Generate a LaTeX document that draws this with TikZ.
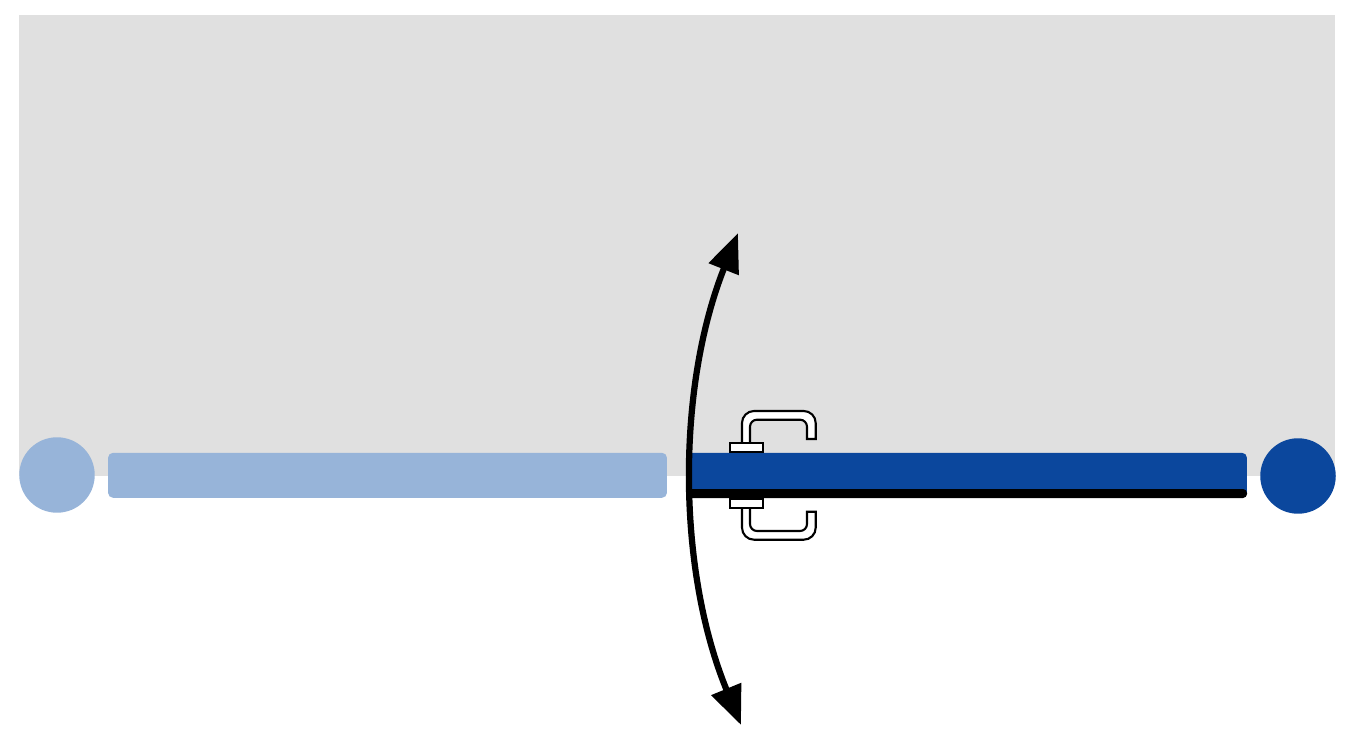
\documentclass[tikz,border=0pt]{standalone}
\usetikzlibrary{arrows.meta}
\definecolor{wallgray}{HTML}{E0E0E0}
\definecolor{leafpale}{HTML}{97B4D9}
\definecolor{leafblue}{HTML}{0B479D}
\tikzset{
  jamb/.style={circle, inner sep=0pt, outer sep=0pt, minimum size=1.51cm},
  leaf/.style={rectangle, rounded corners=0.1cm, inner sep=0pt, outer sep=0pt, minimum height=0.9cm},
  handlepart/.style={draw=black, fill=white, line width=0.042cm},
  swing/.style={line width=0.125cm, {Triangle[length=0.78cm,width=0.62cm]}-{Triangle[length=0.78cm,width=0.62cm]}}
}
\begin{document}
\begin{tikzpicture}[x=0.02cm,y=-0.02cm]
    \useasboundingbox (0,0) rectangle (1354,756);
    \fill[wallgray] (19,15) rectangle (1335,476);
    \node[jamb, fill=leafpale] (jambleft) at (57,475) {};
    \node[jamb, fill=leafblue] (jambright) at (1298,476) {};
    \node[leaf, fill=leafpale, minimum width=11.18cm] (leafclosed) at (387.5,475.3) {};
    \node[leaf, fill=leafblue, minimum width=11.21cm] (leafopen) at (966.75,475.3) {};
    \fill[black, rounded corners=0.08cm] (686,489) -- (1247,489) -- (1247,498) -- (686,498) -- cycle;
    % handles, one on each side of the leaf
    \foreach \side in {1,-1} {
        \begin{scope}[shift={(0,475.35)}, yscale=\side]
            \draw[handlepart] (742,-32) [rounded corners=0.24cm] -- (742,-64.35) -- (815.7,-64.35) [sharp corners] -- (815.7,-36.35)
                -- (807,-36.35) [rounded corners=0.14cm] -- (807,-55.65) -- (750,-55.65) [sharp corners] -- (750,-32) -- cycle;
            \draw[handlepart] (730.3,-32.35) rectangle (763,-23.35);
        \end{scope}
    }
    \coordinate (swingtop) at (738,233);
    \coordinate (swingbottom) at (741,725);
    \draw[swing] (swingbottom) to[bend left=22, looseness=0.87] (swingtop);
\end{tikzpicture}
\end{document}
